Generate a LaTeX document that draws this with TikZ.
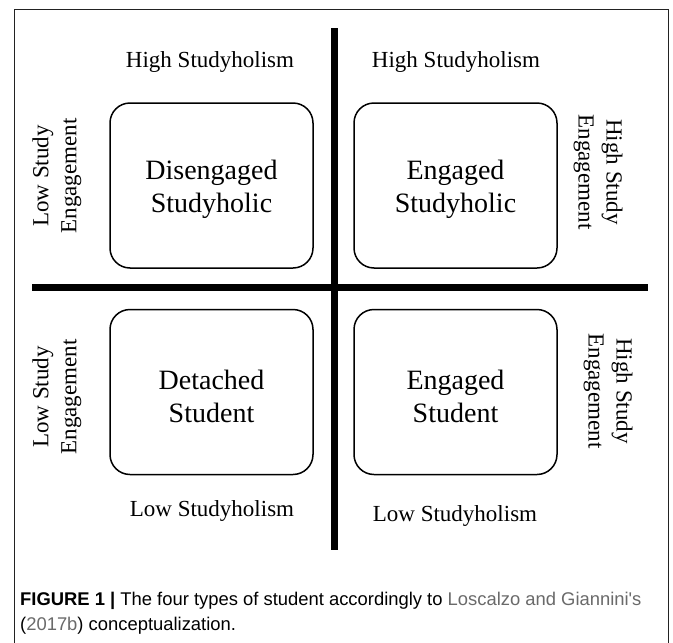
\documentclass[tikz,border=0pt]{standalone}
\usepackage{fontspec}
\setmainfont{Liberation Serif}
\newfontfamily\capfont{Liberation Sans}
\usetikzlibrary{positioning}
\definecolor{linkgrey}{HTML}{6A6A6A}
\definecolor{framegrey}{HTML}{222222}
\begin{document}
\begin{tikzpicture}[x=1pt,y=-1pt,
  quadbox/.style={draw, line width=1.5pt, rounded corners=20pt, minimum width=203pt, minimum height=165pt, inner sep=0pt},
  boxtext/.style={align=center, font=\fontsize{28}{33}\selectfont, inner sep=0pt},
  axislbl/.style={font=\fontsize{23}{26}\selectfont, inner sep=0pt},
  sidelbl/.style={font=\fontsize{23}{28}\selectfont, align=center, inner sep=0pt},
  divider/.style={line width=7pt},
  capline/.style={anchor=base west, inner sep=0pt, font=\capfont\fontsize{18.4}{22}\selectfont}
]
\useasboundingbox (0,0) rectangle (673,643);
\fill[white] (0,0) rectangle (673,643);
% outer frame (open at the bottom)
\draw[framegrey, line width=1pt] (14,643) -- (14,9) -- (668,9) -- (668,643);
% dividers
\coordinate (vtop) at (334,28);
\coordinate (vbot) at (334,550);
\coordinate (hl) at (32,287.5);
\coordinate (hr) at (648,287.5);
\draw[divider] (vtop) -- (vbot);
\draw[divider] (hl) -- (hr);
% boxes
\node[quadbox] (tl) at (211.5,185.5) {};
\node[quadbox] (tr) at (455.5,185.5) {};
\node[quadbox] (bl) at (211.5,392) {};
\node[quadbox] (br) at (455.5,392) {};
\node[boxtext] (tlt) at ([yshift=-4pt]tl.center) {Disengaged\\Studyholic};
\node[boxtext] (trt) at ([yshift=-4pt]tr.center) {Engaged\\Studyholic};
\node[boxtext] (blt) at ([yshift=-4pt]bl.center) {Detached\\Student};
\node[boxtext] (brt) at ([yshift=-4pt]br.center) {Engaged\\Student};
% axis labels
\node[axislbl] (htl) at (210,62) {High Studyholism};
\node[axislbl] (htr) at (456,62) {High Studyholism};
\node[axislbl] (lbl) at (212,511) {Low Studyholism};
\node[axislbl] (lbr) at (455,516) {Low Studyholism};
% side labels
\node[sidelbl, rotate=90] (ltl) at (57,176) {Low Study\\Engagement};
\node[sidelbl, rotate=90] (lbl2) at (57,397) {Low Study\\Engagement};
\node[sidelbl, rotate=-90] (rtr) at (598,172) {High Study\\Engagement};
\node[sidelbl, rotate=-90] (rbr) at (608,391) {High Study\\Engagement};
% caption
\node[capline] (cap1) at (20,605) {\textbf{FIGURE 1 |} The four types of student accordingly to \textcolor{linkgrey}{Loscalzo and Giannini's}};
\node[capline] (cap2) at (20,630) {(\textcolor{linkgrey}{2017b}) conceptualization.};
\end{tikzpicture}
\end{document}
